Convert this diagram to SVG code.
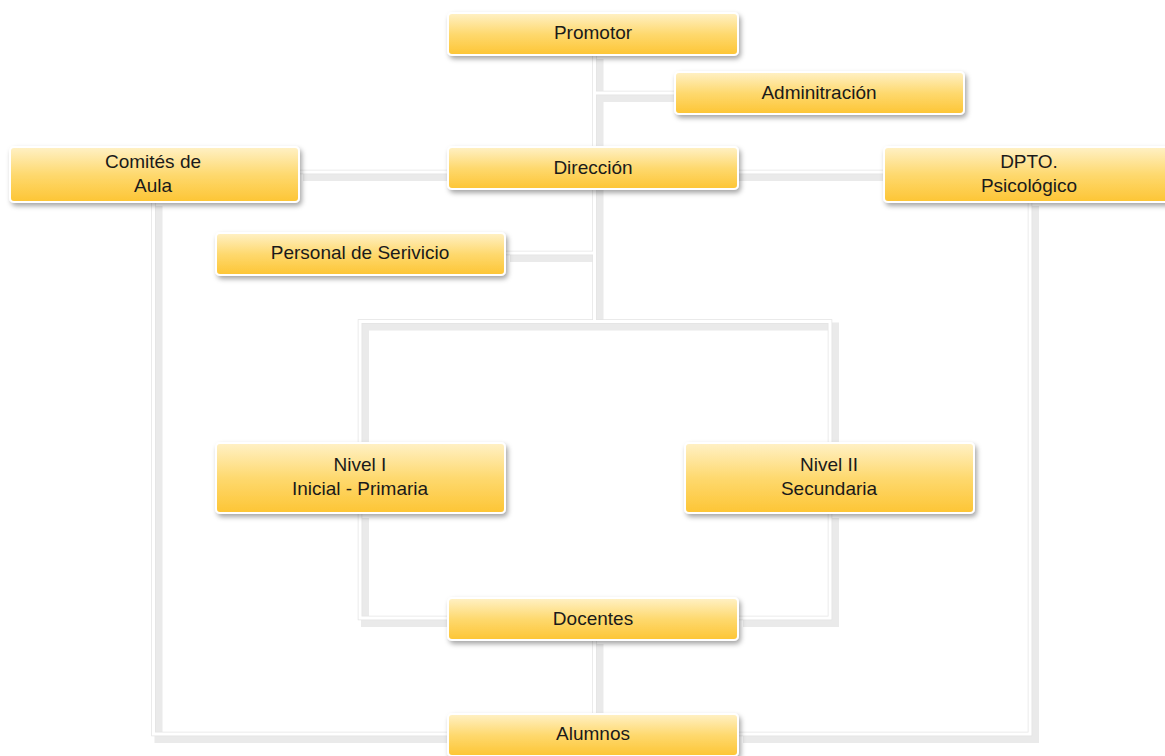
<svg xmlns="http://www.w3.org/2000/svg" width="1165" height="756" viewBox="0 0 1165 756">
<defs>
<linearGradient id="g" x1="0" y1="0" x2="0" y2="1">
<stop offset="0" stop-color="#fff1c6"/>
<stop offset="0.5" stop-color="#fed96f"/>
<stop offset="1" stop-color="#fdc534"/>
</linearGradient>
<filter id="ds" x="-10%" y="-30%" width="125%" height="170%">
<feDropShadow dx="2" dy="3" stdDeviation="2.5" flood-color="#000" flood-opacity="0.35"/>
</filter>
</defs>
<style>
.box{fill:url(#g);stroke:#fff;stroke-width:2;filter:url(#ds)}
.t{font-family:"Liberation Sans",Arial,sans-serif;font-size:19px;fill:#1a1a1a;text-anchor:middle}
.sh{fill:none;stroke:#eaeaea;stroke-width:8}
.ol{fill:none;stroke:#e4e4e4;stroke-width:4.5}
.ln{fill:none;stroke:#fff;stroke-width:3}
</style>
<rect width="1165" height="756" fill="#fff"/>
<g id="connectors">
<g transform="translate(5,5)" class="sh">
<path d="M594.5 54V322"/>
<path d="M594.5 93H675"/>
<path d="M298 172H884"/>
<path d="M505 253H596"/>
<path d="M360 442V321.5H830V442"/>
<path d="M360 513V618H448"/>
<path d="M830 513V618H738"/>
<path d="M594.5 639V714"/>
<path d="M153.5 201V734H448"/>
<path d="M1030 201V734H738"/>
</g>
<g class="ol">
<path d="M594.5 54V322"/>
<path d="M594.5 93H675"/>
<path d="M298 172H884"/>
<path d="M505 253H596"/>
<path d="M360 442V321.5H830V442"/>
<path d="M360 513V618H448"/>
<path d="M830 513V618H738"/>
<path d="M594.5 639V714"/>
<path d="M153.5 201V734H448"/>
<path d="M1030 201V734H738"/>
</g>
<g class="ln">
<path d="M594.5 54V322"/>
<path d="M594.5 93H675"/>
<path d="M298 172H884"/>
<path d="M505 253H596"/>
<path d="M360 442V321.5H830V442"/>
<path d="M360 513V618H448"/>
<path d="M830 513V618H738"/>
<path d="M594.5 639V714"/>
<path d="M153.5 201V734H448"/>
<path d="M1030 201V734H738"/>
</g>
</g>
<g id="promotor"><rect class="box" x="448" y="13" width="290" height="42" rx="4"/><text class="t" x="593" y="39">Promotor</text></g>
<g id="administracion"><rect class="box" x="675" y="72" width="289" height="42" rx="4"/><text class="t" x="819" y="99">Adminitración</text></g>
<g id="direccion"><rect class="box" x="448" y="147" width="290" height="42" rx="4"/><text class="t" x="593" y="174">Dirección</text></g>
<g id="comites"><rect class="box" x="10" y="147" width="289" height="55" rx="4"/><text class="t" x="153" y="168">Comités de</text><text class="t" x="153" y="192">Aula</text></g>
<g id="dpto"><rect class="box" x="884" y="147" width="290" height="55" rx="4"/><text class="t" x="1029" y="168">DPTO.</text><text class="t" x="1029" y="192">Psicológico</text></g>
<g id="personal"><rect class="box" x="216" y="233" width="289" height="42" rx="4"/><text class="t" x="360" y="259">Personal de Serivicio</text></g>
<g id="nivel1"><rect class="box" x="216" y="443" width="289" height="70" rx="4"/><text class="t" x="360" y="471">Nivel I</text><text class="t" x="360" y="495">Inicial - Primaria</text></g>
<g id="nivel2"><rect class="box" x="685" y="443" width="289" height="70" rx="4"/><text class="t" x="829" y="471">Nivel II</text><text class="t" x="829" y="495">Secundaria</text></g>
<g id="docentes"><rect class="box" x="448" y="598" width="290" height="42" rx="4"/><text class="t" x="593" y="625">Docentes</text></g>
<g id="alumnos"><rect class="box" x="448" y="714" width="290" height="42" rx="4"/><text class="t" x="593" y="740">Alumnos</text></g>
</svg>
